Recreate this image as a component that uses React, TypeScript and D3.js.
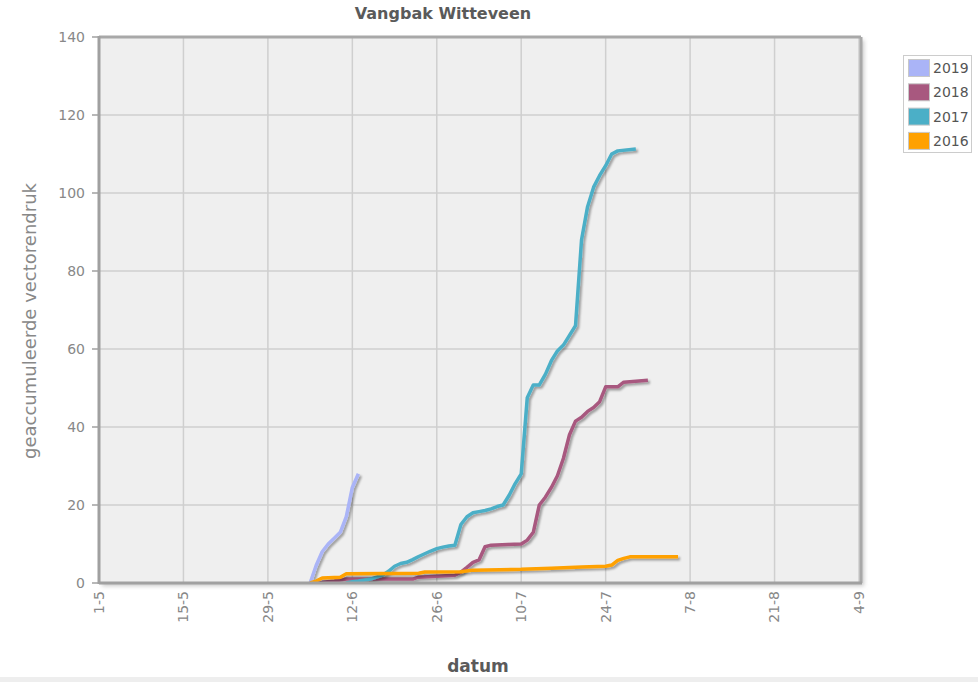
import React from "react";
import * as d3 from "d3";

const title = "Vangbak Witteveen";
const yLabel = "geaccumuleerde vectorendruk";
const xLabel = "datum";
const xTickLabels = ["1-5", "15-5", "29-5", "12-6", "26-6", "10-7", "24-7", "7-8", "21-8", "4-9"];
const yTicks = [0, 20, 40, 60, 80, 100, 120, 140];
const seriesNames = ["2019", "2018", "2017", "2016"];
const seriesColors = ["#aab4f7", "#a8587f", "#4bafc7", "#ffa100"];

const dates2019 = ["5-6", "6-6", "7-6", "8-6", "9-6", "10-6", "11-6", "12-6", "13-6"];
const values2019 = [0, 4.5, 8, 10, 11.5, 13, 17, 24.5, 28];

const dates2018 = ["6-6", "9-6", "11-6", "22-6", "23-6", "29-6", "30-6", "1-7", "2-7", "3-7", "4-7", "5-7", "10-7", "11-7", "12-7", "13-7", "14-7", "15-7", "16-7", "17-7", "18-7", "19-7", "20-7", "21-7", "22-7", "23-7", "24-7", "26-7", "27-7", "31-7"];
const values2018 = [0, 0.5, 1, 1, 1.5, 2, 2.8, 4, 5.3, 5.9, 9.3, 9.7, 10, 11, 13, 20, 22, 24.5, 27.5, 32, 38, 41.5, 42.5, 44, 45, 46.5, 50.3, 50.3, 51.5, 52];

const dates2017 = ["11-6", "12-6", "13-6", "15-6", "17-6", "18-6", "19-6", "20-6", "21-6", "22-6", "23-6", "24-6", "25-6", "26-6", "27-6", "28-6", "29-6", "30-6", "1-7", "2-7", "3-7", "4-7", "5-7", "6-7", "7-7", "8-7", "9-7", "10-7", "11-7", "12-7", "13-7", "14-7", "15-7", "16-7", "17-7", "18-7", "19-7", "20-7", "21-7", "22-7", "23-7", "24-7", "25-7", "26-7", "29-7"];
const values2017 = [0, 0.3, 0.5, 1, 2, 3, 4.3, 5, 5.3, 6, 6.8, 7.5, 8.2, 8.8, 9.2, 9.5, 9.7, 15, 17, 18, 18.3, 18.6, 19, 19.6, 20, 22.5, 25.5, 28, 47.5, 50.8, 50.8, 53.5, 57, 59.5, 61, 63.5, 66, 88, 96.5, 101.5, 104.5, 107, 110, 110.8, 111.3];

const dates2016 = ["5-6", "6-6", "7-6", "10-6", "11-6", "23-6", "24-6", "30-6", "2-7", "10-7", "15-7", "20-7", "24-7", "25-7", "26-7", "27-7", "28-7", "5-8"];
const values2016 = [0, 0.5, 1.3, 1.5, 2.4, 2.5, 2.8, 2.9, 3.3, 3.5, 3.8, 4.1, 4.3, 4.6, 5.8, 6.3, 6.7, 6.7];

const seriesDates = [dates2019, dates2018, dates2017, dates2016];
const seriesValues = [values2019, values2018, values2017, values2016];

const W = 978;
const H = 682;
const plotLeft = 99;
const plotRight = 861;
const plotTop = 37;
const plotBottom = 583;
const font = "'DejaVu Sans', Verdana, sans-serif";

const parseDay = d3.timeParse("%d-%m");

export default function App() {
  const x = d3
    .scaleTime()
    .domain([parseDay(xTickLabels[0])!, parseDay(xTickLabels[xTickLabels.length - 1])!])
    .range([plotLeft, plotRight - 2]);
  const y = d3.scaleLinear().domain([0, 140]).range([plotBottom, plotTop]);

  const line = d3
    .line<[Date, number]>()
    .x((d) => x(d[0]))
    .y((d) => y(d[1]));

  const series = seriesNames.map((name, i) => ({
    name,
    color: seriesColors[i],
    points: seriesDates[i].map((d, j) => [parseDay(d)!, seriesValues[i][j]] as [Date, number]),
  }));

  return (
    <svg
      width={W}
      height={H}
      style={{ position: "absolute", left: 0, top: 0, background: "#fff" }}
      fontFamily={font}
    >
      <defs>
        <filter id="lineShadow" x="-10%" y="-10%" width="130%" height="130%">
          <feDropShadow dx="2" dy="2" stdDeviation="1.3" floodColor="#000" floodOpacity="0.35" />
        </filter>
        <filter id="frameShadow" x="-5%" y="-5%" width="110%" height="110%">
          <feGaussianBlur stdDeviation="2" />
        </filter>
        <clipPath id="plotClip">
          <rect x={plotLeft} y={plotTop} width={plotRight - plotLeft} height={plotBottom - plotTop} />
        </clipPath>
      </defs>
      <rect x={0} y={0} width={W} height={H} fill="#fff" />
      <rect x={0} y={677} width={W} height={5} fill="#eeeeee" />

      <text x={443} y={19} textAnchor="middle" fontSize={16} fontWeight="bold" fill="#5a5a5a">
        {title}
      </text>

      {/* frame shadow */}
      <rect
        x={plotLeft + 3}
        y={plotTop + 3}
        width={plotRight - plotLeft}
        height={plotBottom - plotTop}
        fill="#c8c8c8"
        filter="url(#frameShadow)"
      />
      <rect
        x={plotLeft}
        y={plotTop}
        width={plotRight - plotLeft}
        height={plotBottom - plotTop}
        fill="#efefef"
      />

      {/* gridlines */}
      {yTicks.map((t) => (
        <line key={"gy" + t} x1={plotLeft} x2={plotRight} y1={y(t)} y2={y(t)} stroke="#cfcfcf" strokeWidth={1.5} />
      ))}
      {xTickLabels.map((t) => (
        <line
          key={"gx" + t}
          x1={x(parseDay(t)!)}
          x2={x(parseDay(t)!)}
          y1={plotTop}
          y2={plotBottom}
          stroke="#cfcfcf"
          strokeWidth={1.5}
        />
      ))}

      {/* frame */}
      <line x1={plotLeft} x2={plotRight} y1={plotTop} y2={plotTop} stroke="#a8a8a8" strokeWidth={3} />
      <line x1={plotRight} x2={plotRight} y1={plotTop} y2={plotBottom} stroke="#a8a8a8" strokeWidth={3} />

      {/* series */}
      <g clipPath="url(#plotClip)">
        {series.map((s) => (
          <path
            key={s.name}
            d={line(s.points) || ""}
            fill="none"
            stroke={s.color}
            strokeWidth={3.5}
            strokeLinejoin="round"
            filter="url(#lineShadow)"
          />
        ))}
      </g>

      {/* axes */}
      <line x1={plotLeft} x2={plotRight + 1} y1={plotBottom} y2={plotBottom} stroke="#a0a0a0" strokeWidth={3} />
      <line x1={plotLeft} x2={plotLeft} y1={plotTop - 1} y2={plotBottom + 1} stroke="#a0a0a0" strokeWidth={3} />

      {yTicks.map((t) => (
        <g key={"ty" + t}>
          <line x1={plotLeft - 7} x2={plotLeft} y1={y(t)} y2={y(t)} stroke="#a0a0a0" strokeWidth={1.5} />
          <text x={85} y={y(t)} dy="0.35em" textAnchor="end" fontSize={14} fill="#888">
            {t}
          </text>
        </g>
      ))}
      {xTickLabels.map((t) => (
        <text
          key={"tx" + t}
          transform={`translate(${x(parseDay(t)!)},${591}) rotate(-90)`}
          dy="0.35em"
          textAnchor="end"
          fontSize={14}
          fill="#888"
        >
          {t}
        </text>
      ))}

      <text
        transform={`translate(${36},${321}) rotate(-90)`}
        textAnchor="middle"
        fontSize={18}
        fill="#888"
      >
        {yLabel}
      </text>
      <text x={478} y={672} textAnchor="middle" fontSize={17} fontWeight="bold" fill="#5a5a5a">
        {xLabel}
      </text>

      {/* legend */}
      <rect x={903.5} y={55.5} width={68} height={97} fill="#fff" stroke="#cccccc" />
      {series.map((s, i) => (
        <g key={"lg" + s.name}>
          <rect x={908.5} y={59.5 + i * 24.3} width={21} height={17} fill={s.color} stroke="#c8c8c8" />
          <text x={933} y={68 + i * 24.3} dy="0.35em" fontSize={14} fill="#555">
            {s.name}
          </text>
        </g>
      ))}
    </svg>
  );
}
